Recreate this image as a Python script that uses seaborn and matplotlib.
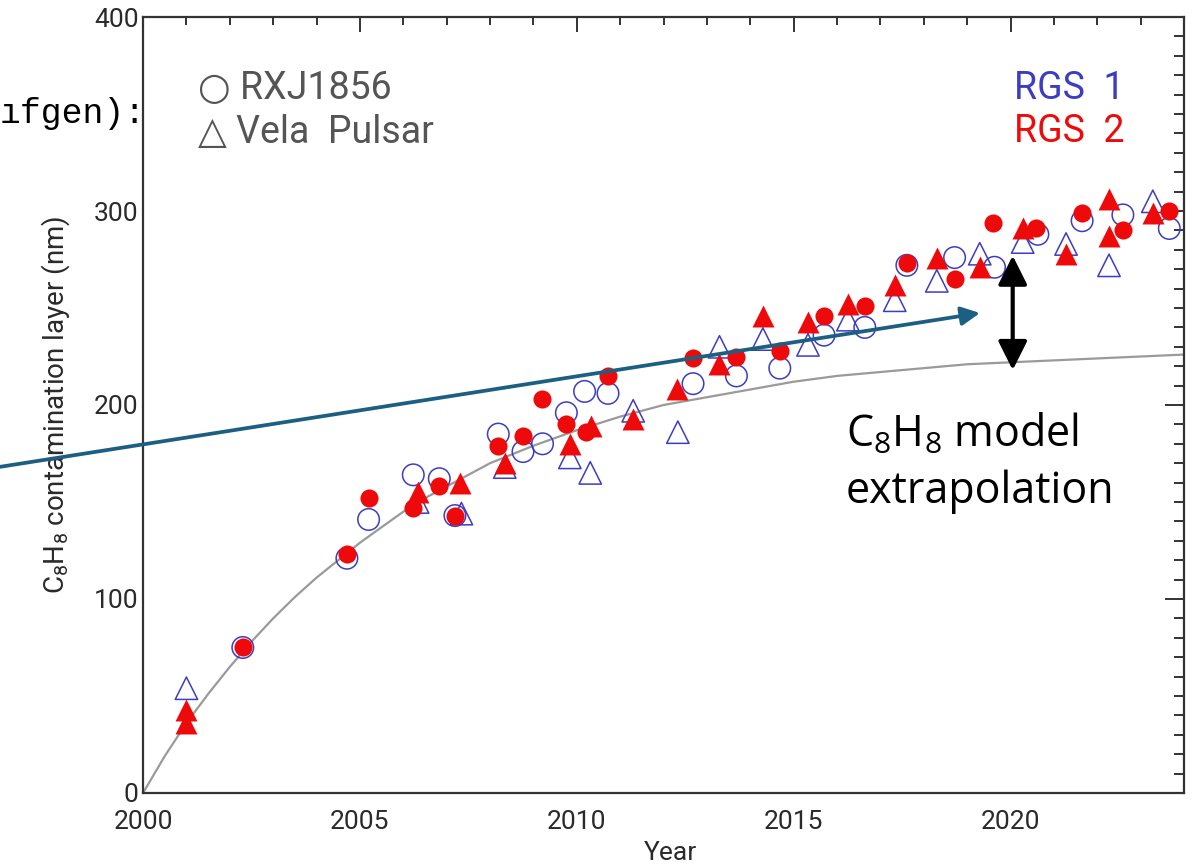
import matplotlib
matplotlib.use("Agg")
import matplotlib.pyplot as plt
import seaborn as sns
from matplotlib.ticker import MultipleLocator

# grey C8H8 model curve
model_year = [2000, 2000.5, 2001, 2001.5, 2002, 2002.5, 2003, 2003.5, 2004, 2004.5,
              2005, 2005.5, 2006, 2006.5, 2007, 2007.5, 2008, 2009, 2010, 2011, 2012,
              2013, 2014, 2015, 2016, 2017, 2018, 2019, 2020, 2021, 2022, 2023, 2024]
model_nm = [0, 19, 36, 51, 65, 78, 90, 101, 111, 120,
            129, 137, 145, 152, 158, 164, 170, 179, 187, 194, 200,
            204, 208, 212, 215, 217, 219, 221, 222, 223, 224, 225, 226]

# RGS 1 (blue, open symbols)
rgs1_rxj_year = [2002.3, 2004.7, 2005.2, 2006.23, 2006.83, 2007.19, 2008.19, 2008.76, 2009.21,
                 2009.76, 2010.18, 2010.72, 2012.68, 2013.68, 2014.68, 2015.7, 2016.64,
                 2017.61, 2018.71, 2019.63, 2020.63, 2021.65, 2022.59, 2023.66]
rgs1_rxj_nm = [75, 121, 141, 164, 162, 143, 185, 176, 180,
               196, 207, 206, 211, 215, 219, 236, 240,
               272, 276, 271, 288, 295, 298, 291]
rgs1_vela_year = [2001.0, 2006.33, 2007.34, 2008.34, 2009.84, 2010.31, 2011.3, 2012.33, 2013.29,
                  2014.29, 2015.33, 2016.25, 2017.33, 2018.3, 2019.29, 2020.28, 2021.28,
                  2022.27, 2023.28]
rgs1_vela_nm = [54, 150, 144, 168, 173, 165, 197, 186, 230,
                234, 231, 244, 254, 264, 278, 284, 283,
                272, 305]

# RGS 2 (red, filled symbols)
rgs2_rxj_year = [2002.3, 2004.7, 2005.2, 2006.23, 2006.83, 2007.2, 2008.19, 2008.76, 2009.2,
                 2009.76, 2010.22, 2010.72, 2012.68, 2013.68, 2014.68, 2015.7, 2016.64,
                 2017.61, 2018.71, 2019.6, 2020.59, 2021.65, 2022.6, 2023.65]
rgs2_rxj_nm = [75, 123, 152, 147, 158, 143, 179, 184, 203,
               190, 186, 215, 224, 225, 228, 246, 251,
               273, 265, 294, 291, 299, 290, 300]
rgs2_vela_year = [2001.0, 2001.0, 2006.33, 2007.3, 2008.34, 2009.84, 2010.33, 2011.3, 2012.32,
                  2013.29, 2014.29, 2015.33, 2016.25, 2017.33, 2018.3, 2019.29, 2020.28,
                  2021.28, 2022.27, 2022.27, 2023.28]
rgs2_vela_nm = [43, 36, 155, 160, 170, 180, 189, 193, 208,
                221, 246, 243, 252, 262, 276, 271, 291,
                278, 306, 287, 299]

blue = "#3c3cc4"
red = "#ee0a0a"
axis_col = "#333333"
label_col = "#2a2a2a"

sns.set_style("white")
plt.rcParams["font.family"] = ["Roboto", "DejaVu Sans"]
plt.rcParams["mathtext.default"] = "regular"

fig = plt.figure(figsize=(11.96, 8.64), dpi=100)
ax = fig.add_axes([0.1196, 0.0822, 0.8704, 0.8981])

sns.lineplot(x=model_year, y=model_nm, color="#9a9a9a", lw=1.6, ax=ax, zorder=1)

sns.scatterplot(x=rgs1_rxj_year, y=rgs1_rxj_nm, marker="o", s=240, facecolors="none",
                edgecolor=blue, linewidth=1.1, ax=ax, zorder=3)
sns.scatterplot(x=rgs1_vela_year, y=rgs1_vela_nm, marker="^", s=260, facecolors="none",
                edgecolor=blue, linewidth=1.1, ax=ax, zorder=3)
sns.scatterplot(x=rgs2_rxj_year, y=rgs2_rxj_nm, marker="o", s=170, color=red,
                edgecolor=red, linewidth=0, ax=ax, zorder=4)
sns.scatterplot(x=rgs2_vela_year, y=rgs2_vela_nm, marker="^", s=250, color=red,
                edgecolor=red, linewidth=0, ax=ax, zorder=4)

ax.set_xlim(2000, 2024)
ax.set_ylim(0, 400)
ax.xaxis.set_major_locator(MultipleLocator(5))
ax.xaxis.set_minor_locator(MultipleLocator(1))
ax.yaxis.set_major_locator(MultipleLocator(100))
ax.yaxis.set_minor_locator(MultipleLocator(10))
ax.tick_params(which="both", direction="in", top=True, right=True,
               color=axis_col, width=1.4, labelcolor=label_col, labelsize=19)
# IDL style: y ticks a little longer than x ticks
ax.tick_params(axis="x", which="major", length=11, pad=12)
ax.tick_params(axis="x", which="minor", length=5.5)
ax.tick_params(axis="y", which="major", length=14, pad=3)
ax.tick_params(axis="y", which="minor", length=7)
for sp in ax.spines.values():
    sp.set_color(axis_col)
    sp.set_linewidth(1.6)

ax.set_xlabel("Year", fontsize=19, color=label_col)
ax.set_ylabel("C$_8$H$_8$ contamination layer (nm)", fontsize=20, color=label_col)
ax.xaxis.set_label_coords(0.507, -0.062)
ax.yaxis.set_label_coords(-0.068, 0.5)

# legend texts
sym_font = ["Roboto", "DejaVu Sans"]
fig.text(0.1656, 0.898, "\u25cb RXJ1856", fontsize=27, color="#555555", va="center",
         family=sym_font)
fig.text(0.1656, 0.847, "\u25b3 Vela  Pulsar", fontsize=27, color="#555555", va="center",
         family=sym_font)
fig.text(0.848, 0.898, "RGS  1", fontsize=27, color=blue, va="center")
fig.text(0.848, 0.848, "RGS  2", fontsize=27, color=red, va="center")

# annotations on top of the chart
ax.annotate("", xy=(2020.05, 277), xytext=(2020.05, 218),
            arrowprops=dict(arrowstyle="<|-|>", color="black", lw=3,
                            mutation_scale=44, shrinkA=0, shrinkB=0), zorder=6)
ax.annotate("", xy=(0.8194, 0.6377), xycoords="figure fraction",
            xytext=(-0.01, 0.4575), textcoords="figure fraction",
            arrowprops=dict(arrowstyle="-|>", color="#1b6082", lw=2.7,
                            mutation_scale=28, shrinkA=0, shrinkB=0),
            annotation_clip=False, zorder=6)
fig.text(0.707, 0.4826, "C$_8$H$_8$ model", fontsize=31, family="Open Sans",
         va="baseline", color="black")
fig.text(0.707, 0.4178, "extrapolation", fontsize=31, family="Open Sans",
         va="baseline", color="black")

# text of the slide that sticks out at the left edge of the screenshot
fig.text(0.0, 0.858, "\u0131fgen):", fontsize=25, family="Liberation Mono",
         ha="left", va="baseline", color="black")

fig.savefig("out.png", dpi=100)
